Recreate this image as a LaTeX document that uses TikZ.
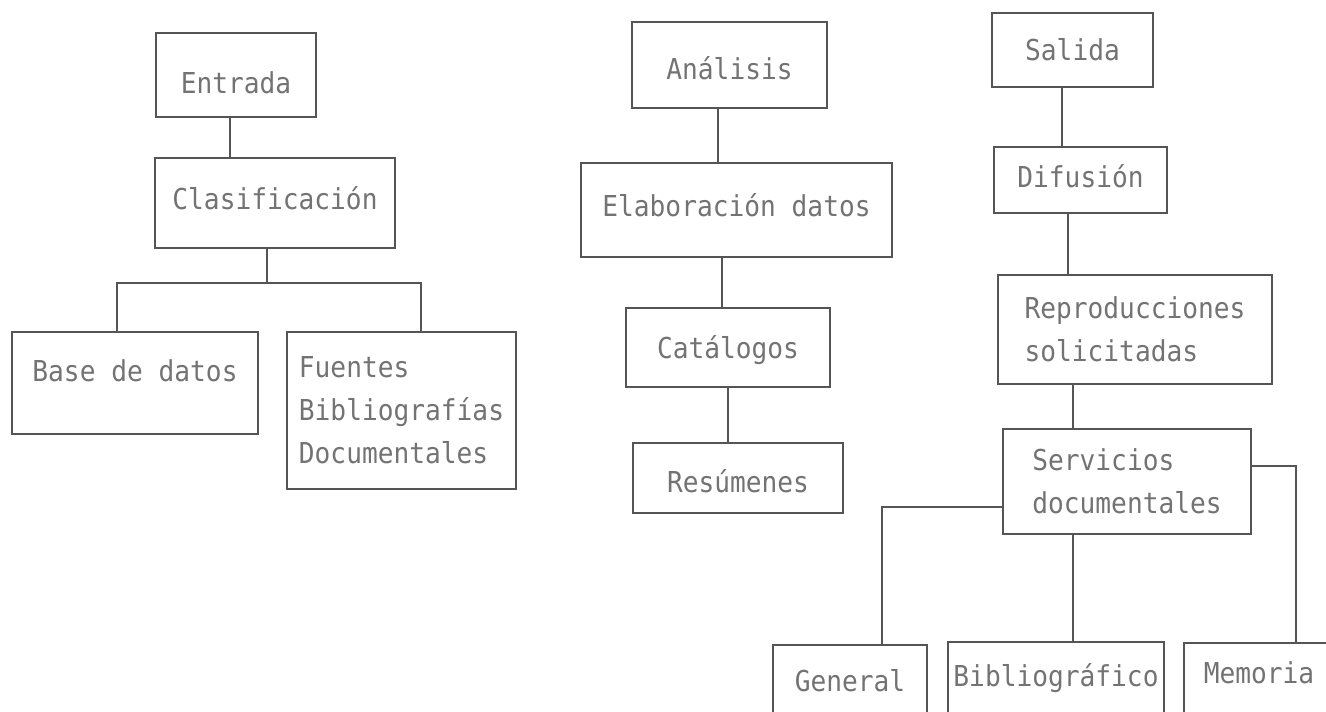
\documentclass[tikz,border=0pt]{standalone}
\usepackage{fontspec}
\usetikzlibrary{positioning}
\newfontfamily\dotfont[FakeStretch=0.91]{DejaVu Sans Mono}
\definecolor{inkgray}{RGB}{85,85,85}
\definecolor{typegray}{RGB}{115,115,115}

\begin{document}
\begin{tikzpicture}[x=1pt, y=-1pt,
        boxnode/.style={rectangle, draw=inkgray, line width=1.6pt, inner sep=0pt, outer sep=0pt,
          text=typegray, font=\dotfont\fontsize{28.8}{43}\selectfont, text height=21pt, text depth=0pt},
        listnode/.style={boxnode, align=left, text height=, text depth=},
        link/.style={draw=inkgray, line width=1.6pt}]
        \useasboundingbox (0,0) rectangle (1326,712);
        \clip (0,0) rectangle (1326,712);
        \node[boxnode, minimum width=160, minimum height=84, text height=37pt] (entrada) at (236,75) {Entrada};
        \node[boxnode, minimum width=240, minimum height=90, text depth=8pt] (clasificacion) at (275,203) {Clasificación};
        \node[boxnode, minimum width=246, minimum height=102, text depth=24pt] (basedatos) at (135,383) {Base de datos};
        \node[listnode, minimum width=229, minimum height=157] (fuentes) at (401.5,410.5) {Fuentes\\Bibliografías\\Documentales};
        \node[boxnode, minimum width=195, minimum height=86, text height=29pt] (analisis) at (729.5,65) {Análisis};
        \node[boxnode, minimum width=311, minimum height=94, text depth=8pt] (elaboracion) at (736.5,210) {Elaboración datos};
        \node[boxnode, minimum width=204, minimum height=79] (catalogos) at (728,347.5) {Catálogos};
        \node[boxnode, minimum width=210, minimum height=70, text height=29pt] (resumenes) at (738,478) {Resúmenes};
        \node[boxnode, minimum width=161, minimum height=74] (salida) at (1072.5,50) {Salida};
        \node[boxnode, minimum width=173, minimum height=66, text depth=6pt] (difusion) at (1080.5,180) {Difusión};
        \node[listnode, minimum width=274, minimum height=109] (reproducciones) at (1135,329.5) {Reproducciones\\solicitadas};
        \node[listnode, minimum width=248, minimum height=105] (servicios) at (1127,481.5) {Servicios\\documentales};
        \node[boxnode, anchor=north, minimum width=154, minimum height=80, text depth=8pt] (general) at (850,645) {General};
        \node[boxnode, anchor=north, minimum width=216, minimum height=80, text depth=12pt] (bibliografico) at (1056,642) {Bibliográfico};
        \node[boxnode, anchor=north west, minimum width=150, minimum height=80, text depth=20pt] (memoria) at (1184,643) {Memoria};
        \coordinate (branchL) at (117,283);
        \coordinate (branchR) at (421,283);
        \coordinate (toGeneral) at (882,507);
        \coordinate (toMemoria) at (1296,466);
        \draw[link] ([xshift=-6pt]entrada.south) -- ([xshift=-6pt]entrada.south |- clasificacion.north);
        \draw[link] ([xshift=-8pt]clasificacion.south) -- ([xshift=-8pt]clasificacion.south |- branchL);
        \draw[link] (basedatos.north -| branchL) -- (branchL) -- (branchR) -- (fuentes.north -| branchR);
        \draw[link] ([xshift=-11.5pt]analisis.south) -- ([xshift=-11.5pt]analisis.south |- elaboracion.north);
        \draw[link] ([xshift=-14.5pt]elaboracion.south) -- ([xshift=-14.5pt]elaboracion.south |- catalogos.north);
        \draw[link] (catalogos.south) -- (catalogos.south |- resumenes.north);
        \draw[link] ([xshift=-10.5pt]salida.south) -- ([xshift=-10.5pt]salida.south |- difusion.north);
        \draw[link] ([xshift=-12.5pt]difusion.south) -- ([xshift=-12.5pt]difusion.south |- reproducciones.north);
        \draw[link] ([xshift=-62pt]reproducciones.south) -- ([xshift=-62pt]reproducciones.south |- servicios.north);
        \draw[link] (servicios.west |- toGeneral) -- (toGeneral) -- (general.north -| toGeneral);
        \draw[link] ([xshift=-54pt]servicios.south) -- ([xshift=-54pt]servicios.south |- bibliografico.north);
        \draw[link] (servicios.east |- toMemoria) -- (toMemoria) -- (memoria.north -| toMemoria);
\end{tikzpicture}
\end{document}
